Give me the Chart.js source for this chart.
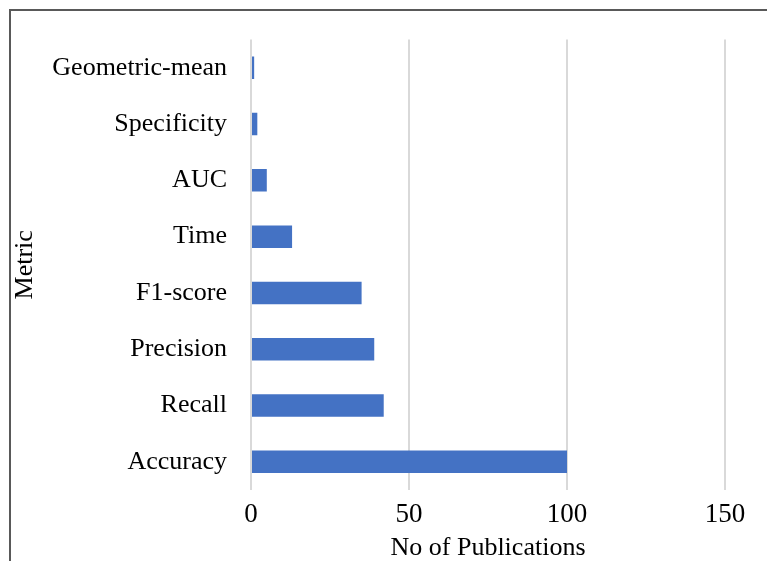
<!DOCTYPE html>
<html>
<head>
<meta charset="utf-8">
<script src="https://cdn.jsdelivr.net/npm/chart.js@4/dist/chart.umd.min.js"></script>
<style>
    body { margin: 0; background: #fff; }
    #wrap { position: relative; width: 767px; height: 561px; overflow: hidden; }
    #frame {
        position: absolute; left: 9px; top: 9px; width: 800px; height: 600px;
        border-left: 2px solid #595959; border-top: 2px solid #595959;
        pointer-events: none;
    }
    canvas { position: absolute; left: 0; top: 0; }
</style>
</head>
<body>
<div id="wrap">
    <canvas id="metricChart" width="767" height="561"></canvas>
    <div id="frame"></div>
</div>
<script>
// Metrics, listed top to bottom as in the figure
const metrics = ['Geometric-mean', 'Specificity', 'AUC', 'Time', 'F1-score', 'Precision', 'Recall', 'Accuracy'];
const publications = [1, 2, 5, 13, 35, 39, 42, 100];
const xTicks = [0, 50, 100, 150];

const serif = 'Liberation Serif';

const ctx = document.getElementById('metricChart').getContext('2d');

new Chart(ctx, {
    type: 'bar',
    data: {
        labels: metrics,
        datasets: [{
            label: 'No of Publications',
            data: publications,
            backgroundColor: '#4472C4',
            borderWidth: 0,
            barPercentage: 0.4,
            categoryPercentage: 1.0
        }]
    },
    options: {
        indexAxis: 'y',
        responsive: false,
        animation: false,
        layout: {
            padding: { top: 37, right: 42, bottom: 0, left: 0 }
        },
        plugins: {
            legend: { display: false },
            tooltip: { enabled: false }
        },
        scales: {
            x: {
                min: xTicks[0],
                max: xTicks[xTicks.length - 1],
                afterBuildTicks: (scale) => {
                    scale.ticks = xTicks.map(v => ({ value: v }));
                },
                afterFit: (scale) => { scale.height = 71; },
                grid: {
                    color: '#d9d9d9',
                    lineWidth: 2,
                    drawTicks: false
                },
                border: { display: false },
                ticks: {
                    padding: 9,
                    color: '#000',
                    font: { family: serif, size: 27, lineHeight: 1.2 }
                },
                title: {
                    display: true,
                    text: 'No of Publications',
                    color: '#000',
                    padding: { top: 0, bottom: 0 },
                    font: { family: serif, size: 26, lineHeight: 1 }
                }
            },
            y: {
                afterFit: (scale) => { scale.width = 251; },
                grid: { display: false, drawTicks: false },
                border: { display: false },
                ticks: {
                    padding: 24,
                    color: '#000',
                    font: { family: serif, size: 26 }
                },
                title: {
                    display: true,
                    text: 'Metric',
                    color: '#000',
                    padding: { top: 12, bottom: 0 },
                    font: { family: serif, size: 26, lineHeight: 1 }
                }
            }
        }
    }
});
</script>
</body>
</html>
